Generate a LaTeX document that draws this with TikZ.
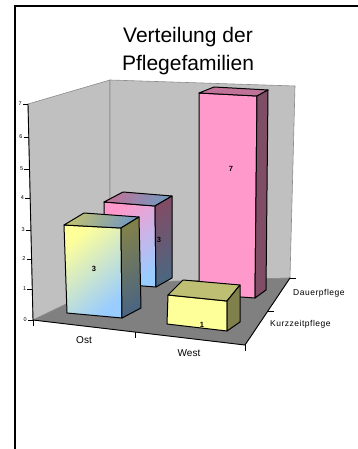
\documentclass[tikz,border=0pt]{standalone}
\usepackage{fontspec}
\setmainfont{Liberation Sans}
\definecolor{wallgray}{HTML}{C0C0C0}
\definecolor{floorgray}{HTML}{808080}
\definecolor{edgegray}{HTML}{8C8C8C}
\definecolor{ylw}{HTML}{FFFF99}
\definecolor{ylwtop}{HTML}{BFBF73}
\definecolor{ylwside}{HTML}{80804D}
\definecolor{lblue}{HTML}{99CCFF}
\definecolor{lbluetop}{HTML}{7399BF}
\definecolor{lblueside}{HTML}{4D6680}
\definecolor{pnk}{HTML}{FF99CC}
\definecolor{pnktop}{HTML}{BF7399}
\definecolor{pnkside}{HTML}{804D66}
\begin{document}
\begin{tikzpicture}[x=1pt,y=-1pt,
  wall/.style={fill=wallgray, draw=edgegray, line width=0.6pt},
  face/.style={draw=black, line width=1pt, line join=round},
  axisline/.style={draw=black, line width=0.9pt},
  tickline/.style={draw=black, line width=0.6pt},
  ticklbl/.style={font=\fontsize{5.5}{6}\selectfont, inner sep=0pt, anchor=east},
  vallbl/.style={font=\fontsize{7.5}{8}\selectfont\bfseries, inner sep=0pt},
  catlbl/.style={font=\fontsize{10}{11}\selectfont, inner sep=0pt},
  serlbl/.style={font=\fontsize{8.5}{9}\selectfont\addfontfeature{LetterSpace=6}, inner sep=0pt, anchor=west},
  titlefont/.style={font=\fontsize{21}{24}\selectfont, inner sep=0pt, anchor=base}]
\useasboundingbox (0,0) rectangle (358,449);
\fill[white] (0,0) rectangle (358,449);
% frame
\draw[line width=1.3pt] (15,449) -- (15,6) -- (358,6);
% title
\node[titlefont] (t1) at (188,43) {Verteilung der};
\node[titlefont] (t2) at (188,71) {Pflegefamilien};
% walls and floor
\path[wall] (28,104) -- (110,80) -- (110,283) -- (33,320) -- cycle;
\path[wall] (110,80) -- (295,86) -- (290,278) -- (110,283) -- cycle;
\path[fill=floorgray, draw=edgegray, line width=0.6pt] (33,320) -- (110,283) -- (290,278) -- (245,345) -- cycle;
% axes
\draw[axisline] (28,104) -- (33,320) -- (245,345) -- (290,278);
% value axis ticks
\foreach \v/\yy in {0/320,1/289,2/259,3/230,4/198,5/169,6/137,7/104}{
  \pgfmathsetmacro{\xx}{33-\v*5/7}
  \draw[tickline] (\xx-5,\yy) -- (\xx,\yy);
  \node[ticklbl] at (\xx-6,\yy) {\v};
}
% category axis ticks
\draw[tickline] (33,320) -- (33,326);
\draw[tickline] (135,332) -- (135,338);
\draw[tickline] (245,345) -- (245,351);
% series axis ticks
\draw[tickline] (290,278) -- (296,278);
\draw[tickline] (268,311) -- (274,311);
% Ost Dauerpflege
\shade[top color=pnk, bottom color=lblue, shading angle=40] (104,202) -- (155,206) -- (156,287) -- (104,283) -- cycle;
\draw[face] (104,202) -- (155,206) -- (156,287) -- (104,283) -- cycle;
\shade[top color=pnktop, bottom color=lbluetop, shading angle=60] (104,202) -- (123,192) -- (172,196) -- (155,206) -- cycle;
\draw[face] (104,202) -- (123,192) -- (172,196) -- (155,206) -- cycle;
\shade[top color=pnkside, bottom color=lblueside, shading angle=30] (155,206) -- (172,196) -- (172,278) -- (156,287) -- cycle;
\draw[face] (155,206) -- (172,196) -- (172,278) -- (156,287) -- cycle;
\node[vallbl] (vod) at (159,240) {3};
% West Dauerpflege
\path[face, fill=pnk] (199,93) -- (257,96) -- (255,298) -- (199,294) -- cycle;
\path[face, fill=pnktop] (199,93) -- (214,87) -- (268,90) -- (257,96) -- cycle;
\path[face, fill=pnkside] (257,96) -- (268,90) -- (266,290) -- (255,298) -- cycle;
\node[vallbl] (vwd) at (231,169) {7};
% Ost Kurzzeitpflege
\shade[top color=ylw, bottom color=lblue, shading angle=40] (64,225) -- (121,228) -- (122,318) -- (67,313) -- cycle;
\draw[face] (64,225) -- (121,228) -- (122,318) -- (67,313) -- cycle;
\shade[top color=ylwtop, bottom color=lbluetop, shading angle=60] (64,225) -- (84,213) -- (139,217) -- (121,228) -- cycle;
\draw[face] (64,225) -- (84,213) -- (139,217) -- (121,228) -- cycle;
\shade[top color=ylwside, bottom color=lblueside, shading angle=30] (121,228) -- (139,217) -- (141,308) -- (122,318) -- cycle;
\draw[face] (121,228) -- (139,217) -- (141,308) -- (122,318) -- cycle;
\node[vallbl] (vok) at (94,269) {3};
% West Kurzzeitpflege
\path[face, fill=ylw] (168,295) -- (227,301) -- (227,331) -- (167,324) -- cycle;
\path[face, fill=ylwtop] (168,295) -- (183,280) -- (240,285) -- (227,301) -- cycle;
\path[face, fill=ylwside] (227,301) -- (240,285) -- (240,322) -- (227,331) -- cycle;
\node[vallbl] (vwk) at (202,325) {1};
% category labels
\node[catlbl] (ost) at (84,340) {Ost};
\node[catlbl] (west) at (189,353) {West};
% series labels
\node[serlbl] (dp) at (293,293) {Dauerpflege};
\node[serlbl] (kp) at (270,324) {Kurzzeitpflege};
\end{tikzpicture}
\end{document}
